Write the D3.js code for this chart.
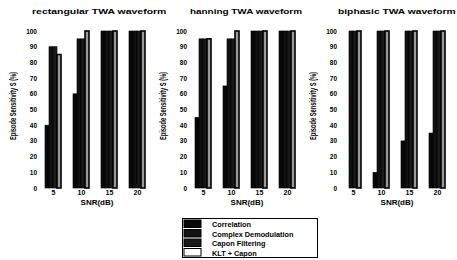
<!DOCTYPE html>
<html>
<head>
<meta charset="utf-8">
<script src="https://cdn.jsdelivr.net/npm/d3@7"></script>
<style>
body { margin: 0; background: #fff; }
svg { display: block; }
text { font-family: "Liberation Sans", Arial, sans-serif; fill: #000; }
</style>
</head>
<body>
<div class="chart"></div>
<script>

var titles = ["rectangular TWA waveform", "hanning TWA waveform", "biphasic TWA waveform"];
var snrLabels = ["5", "10", "15", "20"];
var methods = ["Correlation", "Complex Demodulation", "Capon Filtering", "KLT + Capon"];
var yTicks = [0, 10, 20, 30, 40, 50, 60, 70, 80, 90, 100];

// sensitivity per SNR, one row per SNR: [Correlation, Complex Demod, Capon, KLT+Capon]
var rectValues = [[40, 90, 90, 85], [60, 95, 95, 100], [100, 100, 100, 100], [100, 100, 100, 100]];
var hanningValues = [[45, 95, 95, 95], [65, 95, 95, 100], [100, 100, 100, 100], [100, 100, 100, 100]];
var biphasicValues = [[0, 100, 100, 100], [10, 100, 100, 100], [30, 100, 100, 100], [35, 100, 100, 100]];

var allValues = [rectValues, hanningValues, biphasicValues];
var fills = ["#080808", "#111", "#1a1a1a", "#fff"];

var width = 457, height = 260;
// where each title starts inside its panel
var titleX = [32, 40, 38];

var svg = d3.select(".chart")
	.append("svg")
	.attr("width", width)
	.attr("height", height);

var yScale = d3.scaleLinear()
	.domain([0, 100])
	.range([188, 31]);

var xScale = d3.scalePoint()
	.domain(snrLabels)
	.range([39, 151])
	.padding(0.5);

var barScale = d3.scaleBand()
	.domain(methods)
	.range([-8, 8]);

titles.forEach(function(title, p) {
	var g = svg.append("g")
		.attr("transform", "translate(" + (p * 150) + ",0)");

	g.append("text")
		.attr("x", titleX[p])
		.attr("y", 14)
		.attr("textLength", title.length * 5.6)
		.attr("lengthAdjust", "spacingAndGlyphs")
		.style("font-size", "7.5px")
		.style("font-weight", "bold")
		.text(title);

	g.append("text")
		.attr("transform", "translate(16,106) rotate(-90)")
		.attr("text-anchor", "middle")
		.attr("textLength", 68)
		.attr("lengthAdjust", "spacingAndGlyphs")
		.style("font-size", "9px")
		.style("font-weight", "bold")
		.text("Episode Sensitivity S (%)");

	var yAxis = d3.axisLeft(yScale)
		.tickValues(yTicks)
		.tickSize(0)
		.tickPadding(0);

	g.append("g")
		.attr("transform", "translate(37,0)")
		.call(yAxis)
		.call(function(a) { a.select(".domain").remove(); })
		.selectAll("text")
		.style("font-size", "6.5px")
		.style("font-weight", "bold")
		.style("font-family", "'Liberation Sans', Arial, sans-serif");

	var xAxis = d3.axisBottom(xScale)
		.tickSize(0)
		.tickPadding(0);

	g.append("g")
		.attr("transform", "translate(0,190)")
		.call(xAxis)
		.call(function(a) { a.select(".domain").remove(); })
		.selectAll("text")
		.style("font-size", "7px")
		.style("font-weight", "bold")
		.style("font-family", "'Liberation Sans', Arial, sans-serif");

	g.append("text")
		.attr("x", 97)
		.attr("y", 205)
		.attr("text-anchor", "middle")
		.style("font-size", "8px")
		.style("font-weight", "bold")
		.text("SNR(dB)");

	var groups = g.selectAll(".grp")
		.data(allValues[p])
		.enter()
		.append("g")
		.attr("class", "grp")
		.attr("transform", function(d, i) {
			return "translate(" + xScale(snrLabels[i]) + ",0)";
		});

	// the scan leaves the thin white KLT bar looking almost dark, so it gets a grey fill here
	groups.selectAll("rect")
		.data(function(d) { return d; })
		.enter()
		.append("rect")
		.attr("x", function(d, i) { return barScale(methods[i]); })
		.attr("y", function(d) { return yScale(d); })
		.attr("width", barScale.bandwidth())
		.attr("height", function(d) { return yScale(0) - yScale(d); })
		.attr("fill", function(d, i) { return i == 3 ? "#999" : fills[i]; })
		.attr("stroke", "#000")
		.attr("stroke-width", function(d, i) { return i == 3 ? 1.6 : 0.6; });
});

// legend
var legend = svg.append("g")
	.attr("transform", "translate(182,218)");

legend.append("rect")
	.attr("x", 0.5)
	.attr("y", 0.5)
	.attr("width", 135)
	.attr("height", 39)
	.attr("fill", "none")
	.attr("stroke", "#000")
	.attr("stroke-width", 1);

var rows = legend.selectAll(".row")
	.data(methods)
	.enter()
	.append("g")
	.attr("class", "row")
	.attr("transform", function(d, i) { return "translate(0," + (i * 9.5) + ")"; });

rows.append("rect")
	.attr("x", 2)
	.attr("y", 2)
	.attr("width", 17)
	.attr("height", 7.5)
	.attr("fill", function(d, i) { return fills[i]; })
	.attr("stroke", "#000")
	.attr("stroke-width", 1);

rows.append("text")
	.attr("x", 30)
	.attr("y", 9)
	.style("font-size", "7.3px")
	.style("font-weight", "bold")
	.text(function(d) { return d; });

</script>
</body>
</html>
